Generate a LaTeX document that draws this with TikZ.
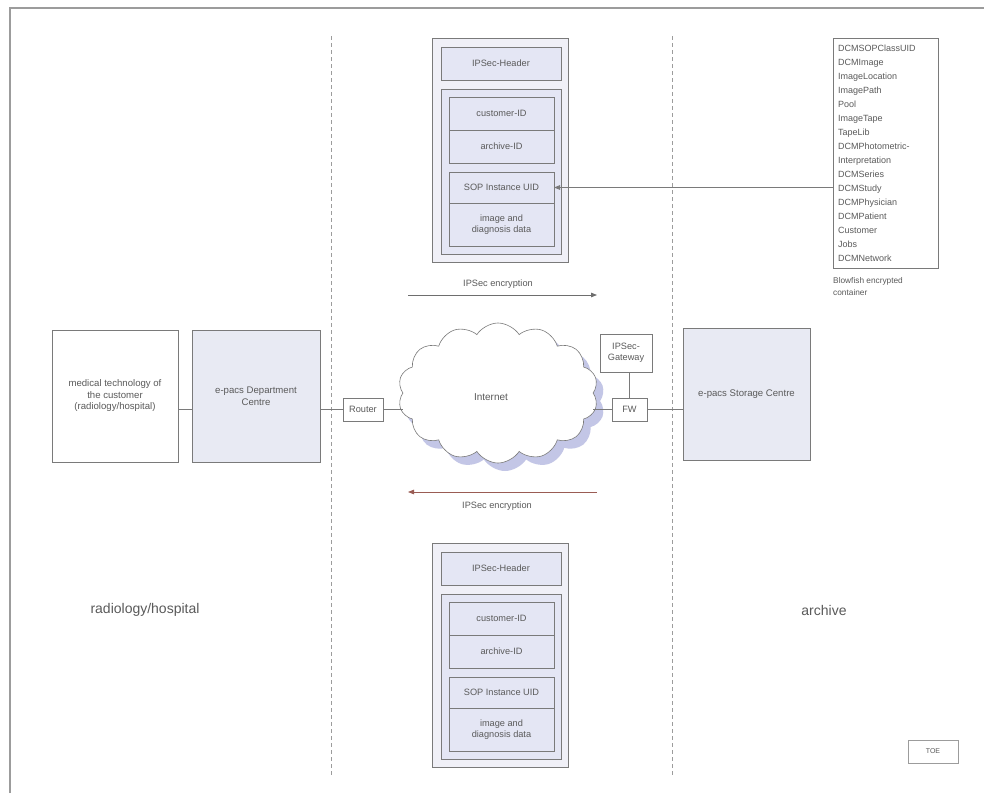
\documentclass[tikz,border=0pt]{standalone}
\usepackage{fontspec}
\setmainfont{Liberation Sans}
\usetikzlibrary{arrows.meta,shapes.symbols}
\definecolor{ln}{HTML}{7A7A7A}
\definecolor{tx}{HTML}{5A5A5A}
\definecolor{pk}{HTML}{F0F0F7}
\definecolor{pkin}{HTML}{E4E6F4}
\definecolor{ctr}{HTML}{E8EAF3}
\definecolor{shd}{HTML}{C3C6E6}
\definecolor{frm}{HTML}{9C9C9C}
\definecolor{redarr}{HTML}{9A5C54}
\definecolor{grarr}{HTML}{6E6E6E}
\begin{document}
\begin{tikzpicture}[x=1pt,y=-1pt,
  box/.style={draw=ln, line width=0.6pt, inner sep=0pt, outer sep=0pt, text=tx,
              font=\fontsize{9.2}{11}\selectfont, align=center},
  pkbox/.style={box, fill=pkin},
  conn/.style={draw=ln, line width=0.6pt},
  sepline/.style={draw=frm, line width=0.6pt, dash pattern=on 4pt off 3pt},
  lbl/.style={text=tx, font=\fontsize{9.2}{11}\selectfont, inner sep=0pt, align=center},
  big/.style={text=tx, font=\fontsize{14}{16}\selectfont, inner sep=0pt},
  arr/.style={line width=0.8pt, -{Triangle[length=6pt,width=4.5pt]}}
]
\useasboundingbox (0,0) rectangle (984,793);
\fill[white] (0,0) rectangle (984,793);

% outer frame
\draw[frm, line width=1.5pt] (10,793) -- (10,8) -- (984,8);

% separators
\draw[sepline] (331,36) -- (331,775);
\draw[sepline] (672,36) -- (672,775);

% packets
\foreach \p/\dy in {t/0, b/505} {
  \node[box, fill=pk, minimum width=136, minimum height=224] (\p-outer) at (500,150+\dy) {};
  \node[pkbox, minimum width=120, minimum height=33] (\p-head) at (501,63.5+\dy) {IPSec-Header};
  \node[pkbox, minimum width=120, minimum height=165] (\p-group) at (501,171.5+\dy) {};
  \node[pkbox, minimum width=105, minimum height=33] (\p-cust) at (501.5,113.5+\dy) {customer-ID};
  \node[pkbox, minimum width=105, minimum height=33] (\p-arch) at (501.5,146.5+\dy) {archive-ID};
  \node[pkbox, minimum width=105, minimum height=31] (\p-sop) at (501.5,187.5+\dy) {SOP Instance UID};
  \node[pkbox, minimum width=105, minimum height=43] (\p-img) at (501.5,224.5+\dy) {image and\\diagnosis data};
}

% list container
\node[box, fill=white, anchor=north west, minimum width=105, minimum height=230,
      text width=95pt, align=left, font=\fontsize{9}{14}\selectfont] (list) at (833,38)
 {DCMSOPClassUID\\DCMImage\\ImageLocation\\ImagePath\\Pool\\ImageTape\\TapeLib\\DCMPhotometric-\\Interpretation\\DCMSeries\\DCMStudy\\DCMPhysician\\DCMPatient\\Customer\\Jobs\\DCMNetwork};
\node[lbl, anchor=north west, align=left, font=\fontsize{8.3}{12}\selectfont] (cap) at (833,277) {Blowfish encrypted\\container};
\draw[conn, arr, draw=ln] (t-sop.east -| list.west) -- (t-sop.east);

% left side
\node[box, fill=white, minimum width=126, minimum height=132, font=\fontsize{9.6}{11.5}\selectfont] (med) at (115,396) {medical technology of\\the customer\\(radiology/hospital)};
\node[box, fill=ctr, minimum width=128, minimum height=132, font=\fontsize{9.6}{11.5}\selectfont] (dept) at (256,396) {e-pacs Department\\Centre};
\node[box, fill=white, minimum width=40, minimum height=23] (router) at (363,409.5) {Router};

% cloud
\node[cloud, cloud puffs=14, cloud puff arc=115, aspect=1.5, minimum width=200, minimum height=140,
      fill=shd, inner sep=0pt] (cloudshadow) at (505,401) {};
\node[cloud, cloud puffs=14, cloud puff arc=115, aspect=1.5, minimum width=200, minimum height=140,
      draw=ln, line width=0.6pt, fill=white, inner sep=0pt] (cloud) at (498,393) {};
\node[lbl, font=\fontsize{10}{12}\selectfont] (inet) at (491,397) {Internet};

% right side
\node[box, fill=white, minimum width=52, minimum height=38] (gw) at (626,353) {IPSec-\\Gateway};
\node[box, fill=white, minimum width=35, minimum height=23] (fw) at (629.5,409.5) {FW};
\node[box, fill=ctr, minimum width=127, minimum height=132, font=\fontsize{9.6}{11.5}\selectfont] (store) at (746.5,394) {e-pacs Storage Centre};

% connectors
\draw[conn] (med.east |- router.west) -- (dept.west |- router.west);
\draw[conn] (dept.east |- router.west) -- (router.west);
\draw[conn] (router.east) -- (cloud.west |- router.east);
\draw[conn] (cloud.east |- fw.west) -- (fw.west);
\draw[conn] (fw.east) -- (store.west |- fw.east);
\draw[conn] (gw.south -| fw.north) -- (fw.north);

% encryption arrows
\coordinate (ua1) at (408,295);
\coordinate (ua2) at (597,295);
\draw[arr, draw=grarr] (ua1) -- (ua2);
\node[lbl] (ualbl) at (498,284) {IPSec encryption};
\coordinate (la1) at (597,492);
\coordinate (la2) at (408,492);
\draw[arr, draw=redarr] (la1) -- (la2);
\node[lbl] (lalbl) at (497,506) {IPSec encryption};

% zone labels
\node[big] (rh) at (145,610) {radiology/hospital};
\node[big] (ar) at (824,610) {archive};

% TOE
\node[box, draw=frm, fill=white, minimum width=50, minimum height=23, font=\fontsize{7}{8}\selectfont] (toe) at (933,751.5) {TOE};
\end{tikzpicture}
\end{document}
